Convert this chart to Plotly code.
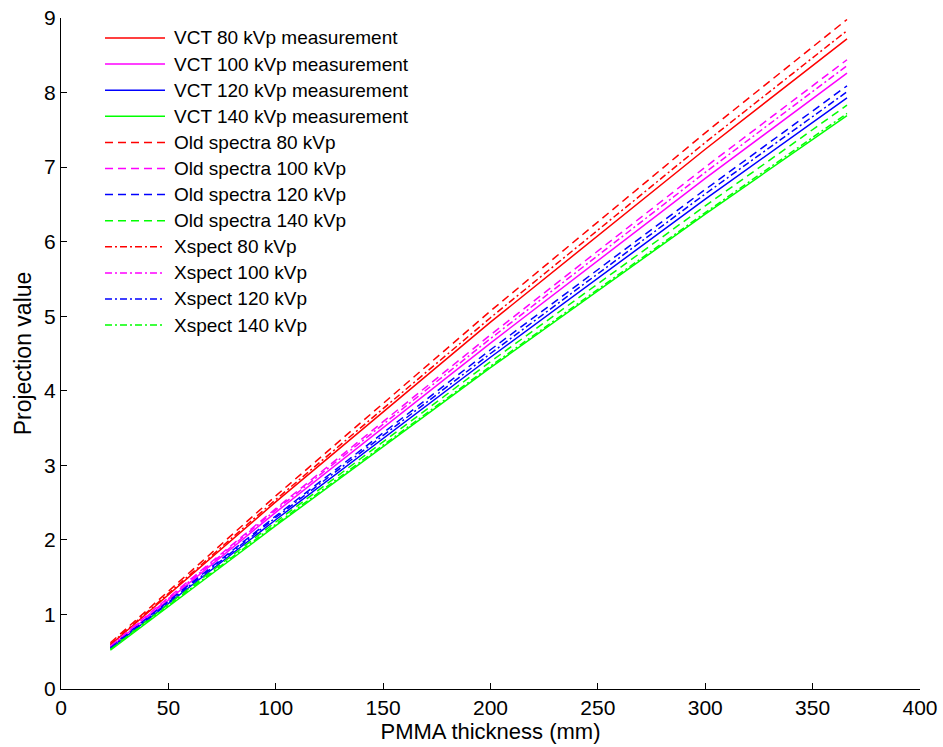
import plotly.graph_objects as go

# PMMA thickness (mm) sample points
thickness = [23, 100, 200, 300, 366]

# Projection values
vct_80 = [0.59, 2.51, 4.92, 7.24, 8.72]
vct_100 = [0.56, 2.37, 4.64, 6.85, 8.26]
vct_120 = [0.54, 2.27, 4.45, 6.57, 7.93]
vct_140 = [0.52, 2.19, 4.31, 6.37, 7.69]
old_80 = [0.62, 2.59, 5.07, 7.46, 8.98]
old_100 = [0.58, 2.42, 4.75, 7.00, 8.44]
old_120 = [0.56, 2.32, 4.55, 6.70, 8.09]
old_140 = [0.54, 2.24, 4.39, 6.48, 7.83]
xs_80 = [0.60, 2.54, 4.98, 7.33, 8.83]
xs_100 = [0.57, 2.40, 4.70, 6.93, 8.36]
xs_120 = [0.55, 2.30, 4.50, 6.64, 8.01]
xs_140 = [0.53, 2.21, 4.33, 6.39, 7.72]

names = [
    "VCT 80 kVp measurement", "VCT 100 kVp measurement",
    "VCT 120 kVp measurement", "VCT 140 kVp measurement",
    "Old spectra 80 kVp", "Old spectra 100 kVp",
    "Old spectra 120 kVp", "Old spectra 140 kVp",
    "Xspect 80 kVp", "Xspect 100 kVp", "Xspect 120 kVp", "Xspect 140 kVp",
]
series = [vct_80, vct_100, vct_120, vct_140,
          old_80, old_100, old_120, old_140,
          xs_80, xs_100, xs_120, xs_140]
colors = ["#FF0000", "#FF00FF", "#0000FF", "#00FF00"] * 3
DASHED = "8px,5px"
DASHDOT = "7px,3px,2px,3px"
dashes = ["solid"] * 4 + [DASHED] * 4 + [DASHDOT] * 4

FONT = "Liberation Sans, Arial, sans-serif"

fig = go.Figure()
for name, ys, c, d in zip(names, series, colors, dashes):
    fig.add_trace(go.Scatter(x=thickness, y=ys, mode="lines", name=name,
                             line=dict(color=c, width=1.5, dash=d),
                             showlegend=False))

# manual legend (MATLAB-like long line samples)
W, H = 943, 747
L, R, T, B = 61, 23, 18, 58
pw, ph = W - L - R, H - T - B

def px(xp):
    return (xp - L) / pw

def py(yp):
    return (H - B - yp) / ph

for i, (name, c, d) in enumerate(zip(names, colors, dashes)):
    yrow = 38 + 26.1 * i
    fig.add_shape(type="line", xref="paper", yref="paper",
                  x0=px(105), x1=px(165), y0=py(yrow), y1=py(yrow),
                  line=dict(color=c, width=1.5, dash=d))
    fig.add_annotation(xref="paper", yref="paper", x=px(172), y=py(yrow),
                       text=name, showarrow=False, xanchor="left",
                       yanchor="middle",
                       font=dict(family=FONT, size=19, color="black"))

fig.update_layout(
    width=W, height=H,
    margin=dict(l=L, r=R, t=T, b=B, autoexpand=False),
    paper_bgcolor="white", plot_bgcolor="white",
    font=dict(family=FONT, size=19, color="black"),
    showlegend=False,
)
fig.update_xaxes(range=[0, 400], tick0=0, dtick=50, showgrid=False,
                 zeroline=False, showline=True, linecolor="black",
                 linewidth=1, ticks="inside", ticklen=6, tickcolor="black",
                 tickfont=dict(size=21), automargin=False,
                 title=dict(text="PMMA thickness (mm)", standoff=4,
                            font=dict(size=22)),
                 mirror=False)
fig.update_yaxes(range=[0, 9], tick0=0, dtick=1, showgrid=False,
                 zeroline=False, showline=True, linecolor="black",
                 linewidth=1, ticks="inside", ticklen=6, tickcolor="black",
                 tickfont=dict(size=21), automargin=False,
                 title=dict(text="Projection value", standoff=6,
                            font=dict(size=23)),
                 mirror=False)

fig.write_html("out.html",
               config={"displayModeBar": False},
               post_script="document.body.style.margin='0';"
                           "document.body.style.overflow='hidden';")
